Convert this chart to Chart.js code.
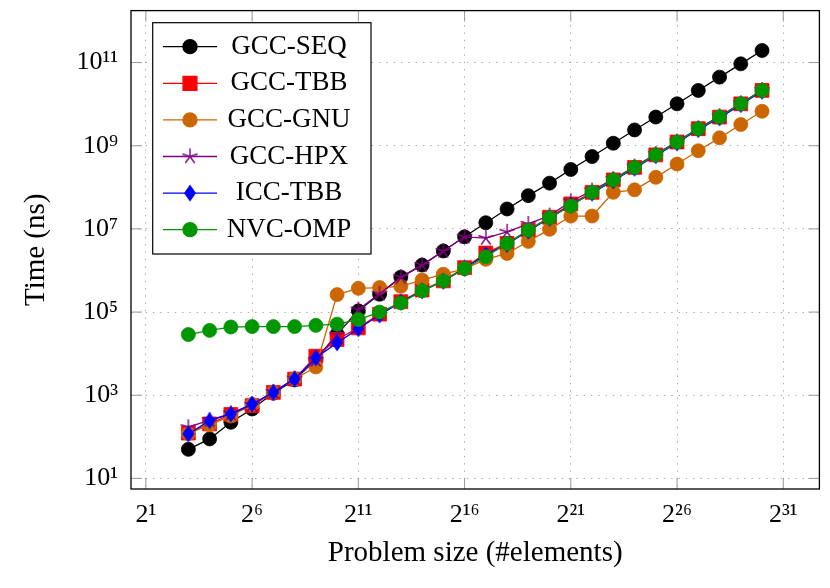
<!DOCTYPE html>
<html><head><meta charset="utf-8">
<script src="https://cdn.jsdelivr.net/npm/chart.js@4.4.0/dist/chart.umd.min.js"></script>
<style>html,body{margin:0;padding:0;background:#fff;}canvas{display:block;}</style>
</head><body>
<canvas id="c" width="830" height="588"></canvas>
<script>
// Problem sizes (2^3 .. 2^30)
const sizes = [8,16,32,64,128,256,512,1024,2048,4096,8192,16384,32768,65536,131072,262144,524288,1048576,2097152,4194304,8388608,16777216,33554432,67108864,134217728,268435456,536870912,1073741824];

// Times in ns
const gccSeq = [50,89,224,468,1120,2340,7240,29500,107000,269000,692000,1350000,2950000,6460000,14100000,30200000,63100000,126000000,269000000,550000000,1150000000,2400000000,4900000000,10200000000,21400000000,44700000000,93300000000,195000000000];
const gccTbb = [123,204,347,562,1170,2450,8700,21900,41700,89100,178000,339000,562000,1170000,2630000,4470000,9330000,19100000,39800000,75900000,151000000,302000000,603000000,1230000000,2570000000,4900000000,10200000000,21400000000];
const gccGnu = [120,195,316,603,1170,2450,4790,263000,372000,389000,417000,589000,813000,1100000,1860000,2570000,5010000,9770000,20400000,20400000,75900000,87100000,174000000,363000000,759000000,1550000000,3240000000,6760000000];
const gccHpx = [170,251,363,589,1200,2510,7080,28200,115000,275000,692000,1350000,2950000,6460000,6030000,8510000,13200000,20900000,45700000,83200000,158000000,316000000,631000000,1260000000,2630000000,5130000000,10500000000,21900000000];
const iccTbb = [117,245,355,617,1170,2450,7940,18200,39800,85100,174000,324000,550000,1120000,2400000,4270000,8910000,18200000,37200000,72400000,145000000,288000000,575000000,1170000000,2450000000,4680000000,9770000000,20400000000];
const nvcOmp = [28800,36300,43700,44700,44700,44700,47900,51300,66100,100000,166000,324000,562000,1120000,2140000,4470000,9330000,18600000,35500000,75900000,151000000,302000000,603000000,1230000000,2570000000,4900000000,10200000000,21400000000];

const seriesNames = ['GCC-SEQ','GCC-TBB','GCC-GNU','GCC-HPX','ICC-TBB','NVC-OMP'];
const seriesValues = [gccSeq, gccTbb, gccGnu, gccHpx, iccTbb, nvcOmp];

// Tick labels
const xTickValues = [2,64,2048,65536,2097152,67108864,2147483648];
const xTickLabels = ['2¹','2⁶','2¹¹','2¹⁶','2²¹','2²⁶','2³¹'];
const yTickValues = [10,1e3,1e5,1e7,1e9,1e11];
const yTickLabels = ['10¹','10³','10⁵','10⁷','10⁹','10¹¹'];

const FONT = "'Liberation Serif', 'DejaVu Serif', serif";
const colors = ['#000000','#ff0000','#cc6600','#800080','#0000ff','#009600'];

function makeDiamond(color){
  const c = document.createElement('canvas'); c.width = 16; c.height = 20;
  const g = c.getContext('2d');
  g.fillStyle = color; g.beginPath();
  g.moveTo(8,1.5); g.lineTo(14,10); g.lineTo(8,18.5); g.lineTo(2,10); g.closePath(); g.fill();
  return c;
}
function makeStar(color){
  const c = document.createElement('canvas'); c.width = 20; c.height = 20;
  const g = c.getContext('2d');
  g.strokeStyle = color; g.lineWidth = 1.4; g.beginPath();
  for (let k = 0; k < 5; k++){
    const a = -Math.PI/2 + k*2*Math.PI/5;
    g.moveTo(10,10); g.lineTo(10 + 8*Math.cos(a), 10 + 8*Math.sin(a));
  }
  g.stroke();
  return c;
}
const styles = ['circle','rect','circle', makeStar(colors[3]), makeDiamond(colors[4]), 'circle'];
const radii = [7, 9.8, 7, 8, 8, 7];

const datasets = seriesNames.map((name, i) => ({
  label: name,
  data: sizes.map((s, j) => ({x: s, y: seriesValues[i][j]})),
  borderColor: colors[i],
  backgroundColor: colors[i],
  pointBackgroundColor: colors[i],
  pointBorderColor: colors[i],
  pointBorderWidth: 0.8,
  borderWidth: 1.3,
  pointStyle: styles[i],
  pointRadius: radii[i],
  tension: 0,
  order: seriesNames.length - 1 - i
}));

function noPad(s){ s.paddingTop = 0; s.paddingBottom = 0; s.paddingLeft = 0; s.paddingRight = 0; }

const framePlugin = {
  id: 'frame',
  beforeDatasetsDraw(chart){
    const ctx = chart.ctx, a = chart.chartArea;
    const xs = chart.scales.x, ys = chart.scales.y;
    ctx.save();
    ctx.strokeStyle = '#999'; ctx.lineWidth = 1;
    ctx.beginPath();
    xTickValues.forEach(v => {
      const p = xs.getPixelForValue(v);
      ctx.moveTo(p, a.bottom); ctx.lineTo(p, a.bottom - 11);
      ctx.moveTo(p, a.top); ctx.lineTo(p, a.top + 11);
    });
    yTickValues.forEach(v => {
      const p = ys.getPixelForValue(v);
      ctx.moveTo(a.left, p); ctx.lineTo(a.left + 11, p);
      ctx.moveTo(a.right, p); ctx.lineTo(a.right - 11, p);
    });
    ctx.stroke();
    ctx.restore();
  },
  afterDraw(chart){
    const ctx = chart.ctx, a = chart.chartArea;
    ctx.save();
    ctx.strokeStyle = '#000'; ctx.lineWidth = 1.3;
    ctx.strokeRect(a.left, a.top, a.right - a.left, a.bottom - a.top);
    // legend
    const lx = 152.7, ly = 22.7, lw = 218.3, lh = 231.3;
    ctx.fillStyle = '#fff';
    ctx.fillRect(lx, ly, lw, lh);
    ctx.lineWidth = 1.2; ctx.strokeStyle = '#000';
    ctx.strokeRect(lx, ly, lw, lh);
    chart.data.datasets.forEach((ds, i) => {
      const y = 46.7 + i * 36.6;
      ctx.strokeStyle = ds.borderColor; ctx.lineWidth = 1.3;
      ctx.beginPath(); ctx.moveTo(163, y); ctx.lineTo(217, y); ctx.stroke();
      ctx.fillStyle = ds.pointBackgroundColor;
      Chart.helpers.drawPoint(ctx, {pointStyle: ds.pointStyle, radius: ds.pointRadius, rotation: 0, borderWidth: ds.pointBorderWidth}, 190, y);
      ctx.fillStyle = '#000';
      ctx.font = '27px ' + FONT;
      ctx.textAlign = 'center'; ctx.textBaseline = 'middle';
      ctx.fillText(ds.label, 289, y);
    });
    ctx.restore();
  }
};

new Chart(document.getElementById('c').getContext('2d'), {
  type: 'line',
  data: { datasets },
  options: {
    responsive: false,
    animation: false,
    layout: { padding: { left: 0, right: 7, top: 7, bottom: 0 } },
    plugins: { legend: { display: false }, tooltip: { enabled: false } },
    scales: {
      x: {
        type: 'logarithmic',
        position: 'bottom',
        min: 1.2311,
        max: 6.977e9,
        afterBuildTicks: s => { s.ticks = xTickValues.map(v => ({ value: v })); },
        afterFit: s => { s.height = 99; noPad(s); },
        ticks: {
          autoSkip: false, maxRotation: 0, padding: 11, color: '#000',
          font: { family: FONT, size: 26 },
          callback: v => xTickLabels[xTickValues.indexOf(v)]
        },
        grid: { color: '#aaaaaa', lineWidth: 1, drawTicks: false },
        border: { display: false, dash: [1.4, 5.9] },
        title: { display: true, text: 'Problem size (#elements)', color: '#000',
                 font: { family: FONT, size: 29 }, padding: { top: 0, bottom: 17.6 } }
      },
      y: {
        type: 'logarithmic',
        position: 'left',
        min: 5.56,
        max: 1.78e12,
        afterBuildTicks: s => { s.ticks = yTickValues.map(v => ({ value: v })); },
        afterFit: s => { s.width = 131; noPad(s); },
        ticks: {
          autoSkip: false, padding: 13, color: '#000',
          font: { family: FONT, size: 26 },
          callback: v => yTickLabels[yTickValues.indexOf(v)]
        },
        grid: { color: '#aaaaaa', lineWidth: 1, drawTicks: false },
        border: { display: false, dash: [1.4, 5.9] },
        title: { display: true, text: 'Time (ns)', color: '#000',
                 font: { family: FONT, size: 29 }, padding: { top: 19, bottom: 0 } }
      }
    }
  },
  plugins: [framePlugin]
});
</script>
</body></html>
